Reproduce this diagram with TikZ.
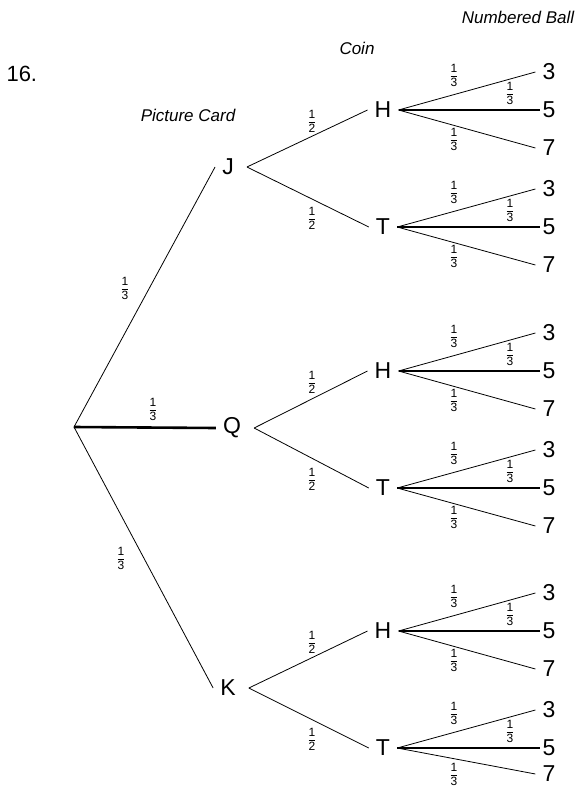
\documentclass[tikz,border=0pt]{standalone}
\usepackage{fontspec}
\setmainfont{Liberation Sans}
\setsansfont{Liberation Sans}
\newcommand{\myfr}[2]{{\setlength{\arrayrulewidth}{0.6pt}\renewcommand{\arraystretch}{0.8}\begin{tabular}{@{}c@{}}#1\\\hline\noalign{\vskip1.5pt}#2\end{tabular}}}
\begin{document}
\begin{tikzpicture}[x=1pt,y=-1pt,
  lbl/.style={font=\fontsize{23}{25}\selectfont,inner sep=7pt},
  head/.style={font=\fontsize{17}{19}\selectfont\itshape},
  prob/.style={font=\fontsize{12}{13}\selectfont,inner sep=0pt},
  thin/.style={line width=0.8pt},
  thick/.style={line width=2.6pt}]
\useasboundingbox (0,0) rectangle (585,789);
\node[font=\fontsize{22}{24}\selectfont,anchor=west] (num) at (3,74) {16.};
\node[head] (hpc) at (188,115) {Picture Card};
\node[head] (hcoin) at (357,48) {Coin};
\node[head] (hball) at (518,17) {Numbered Ball};
\coordinate (root) at (74,427);
\node[lbl] (J) at (228,167) {J};
\node[lbl] (Q) at (232,428) {Q};
\node[lbl] (K) at (228,688) {K};
\draw[thin] (root) -- (J.west);
\draw[thick] (root) -- (Q.west);
\draw[thin] (root) -- (K.west);
\node[prob] (pJ) at (125,290) {\myfr{1}{3}};
\node[prob] (pQ) at (153,411) {\myfr{1}{3}};
\node[prob] (pK) at (121,560) {\myfr{1}{3}};
\foreach \p/\y in {J/167,Q/428,K/688}{
  \pgfmathsetmacro{\hy}{\y-57}
  \pgfmathsetmacro{\ty}{\y+60}
  \node[lbl] (\p H) at (383,\hy) {H};
  \node[lbl] (\p T) at (383,\ty) {T};
  \draw[thin] ([xshift=6pt]\p.east) -- (\p H.west);
  \draw[thin] ([xshift=6pt]\p.east) -- (\p T.west);
  \node[prob] (\p hH) at (312,\y-44) {\myfr{1}{2}};
  \node[prob] (\p hT) at (312,\y+53) {\myfr{1}{2}};
  \foreach \c/\cy in {H/\hy,T/\ty}{
    \pgfmathsetmacro{\sy}{min(\cy+38,774)}
    \pgfmathsetmacro{\ly}{min(\cy+31,776)}
    \node[lbl] (\p\c3) at (549,\cy-38) {3};
    \node[lbl] (\p\c5) at (549,\cy) {5};
    \node[lbl] (\p\c7) at (549,\sy) {7};
    \draw[thin] (\p\c.east) -- (\p\c3.west);
    \draw[thick] (\p\c.east) -- ([xshift=5pt]\p\c5.west);
    \draw[thin] (\p\c.east) -- (\p\c7.west);
    \node[prob] (\p\c a) at (454,\cy-33) {\myfr{1}{3}};
    \node[prob] (\p\c b) at (510,\cy-15) {\myfr{1}{3}};
    \node[prob] (\p\c c) at (454,\ly) {\myfr{1}{3}};
  }
}
\end{tikzpicture}
\end{document}
